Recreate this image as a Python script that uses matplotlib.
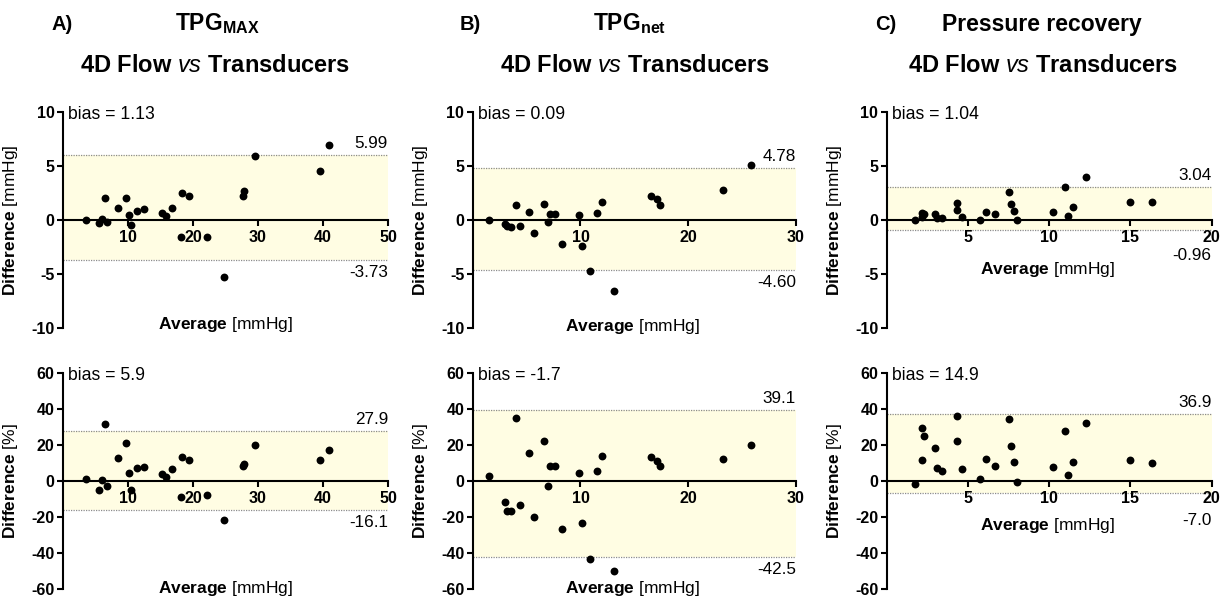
import matplotlib
matplotlib.use("Agg")
import matplotlib.pyplot as plt

plt.rcParams['font.family'] = ['Liberation Sans', 'DejaVu Sans']
plt.rcParams['mathtext.fontset'] = 'custom'
plt.rcParams['mathtext.rm'] = 'Liberation Sans'
plt.rcParams['mathtext.bf'] = 'Liberation Sans:bold'
plt.rcParams['mathtext.it'] = 'Liberation Sans:italic'
plt.rcParams['axes.unicode_minus'] = False

# ---------------- data ----------------
a_avg = [3.5, 5.5, 6.0, 6.5, 6.7, 8.5, 9.7, 10.2, 10.4, 11.4, 12.4, 15.3, 15.9, 16.8,
         18.2, 18.3, 19.4, 22.1, 24.8, 27.7, 27.8, 29.5, 39.6, 40.9]
a_diff = [0, -0.3, 0.05, 2.0, -0.2, 1.05, 2.0, 0.45, -0.5, 0.8, 1.0, 0.6, 0.4, 1.05,
          -1.55, 2.45, 2.25, -1.6, -5.3, 2.2, 2.7, 5.9, 4.5, 6.9]
a_pct = [0.9, -5.2, 0.7, 31.3, -2.6, 12.4, 20.9, 4.6, -5.2, 6.9, 7.6, 3.7, 2.2, 6.3,
         -8.7, 13.3, 11.5, -7.6, -21.5, 8.0, 9.6, 20.0, 11.3, 16.9]

b_avg = [1.5, 3.0, 3.2, 3.6, 4.0, 4.4, 5.2, 5.7, 6.6, 7.0, 7.2, 7.6, 8.3, 9.9, 10.1,
         10.9, 11.5, 12.0, 13.1, 16.5, 17.1, 17.4, 23.2, 25.8]
b_diff = [0, -0.37, -0.55, -0.68, 1.35, -0.6, 0.77, -1.17, 1.45, -0.2, 0.55, 0.55, -2.2,
          0.43, -2.4, -4.77, 0.65, 1.66, -6.6, 2.2, 1.9, 1.35, 2.74, 5.1]
b_pct = [2.6, -12.0, -16.5, -16.7, 35.0, -13.3, 15.4, -19.8, 21.9, -3.0, 8.0, 8.0, -26.9,
         4.4, -23.5, -43.3, 5.7, 13.9, -49.8, 13.3, 11.1, 8.0, 11.9, 19.8]

c_avg = [1.73, 2.2, 2.3, 2.2, 2.96, 3.1, 3.4, 4.35, 4.33, 4.65, 5.76, 6.14, 6.67, 7.53,
         7.67, 7.86, 8.0, 10.24, 10.96, 11.18, 11.49, 12.24, 15.0, 16.35]
c_diff = [-0.06, 0.65, 0.55, 0.3, 0.52, 0.18, 0.15, 1.57, 0.92, 0.3, 0.03, 0.74, 0.52, 2.55,
          1.5, 0.8, -0.03, 0.77, 3.02, 0.34, 1.23, 3.97, 1.69, 1.66]
c_pct = [-1.5, 29.1, 25.0, 11.5, 18.5, 7.0, 5.6, 36.1, 22.0, 6.7, 1.1, 12.2, 8.3, 34.3,
         19.6, 10.2, -0.4, 7.8, 27.6, 3.3, 10.6, 32.0, 11.3, 10.0]

# bias, upper limit, lower limit (as labelled)
a_mm_stats = ["1.13", "5.99", "-3.73"]
a_pc_stats = ["5.9", "27.9", "-16.1"]
b_mm_stats = ["0.09", "4.78", "-4.60"]
b_pc_stats = ["-1.7", "39.1", "-42.5"]
c_mm_stats = ["1.04", "3.04", "-0.96"]
c_pc_stats = ["14.9", "36.9", "-7.0"]

a_xticks = [10, 20, 30, 40, 50]
b_xticks = [10, 20, 30]
c_xticks = [5, 10, 15, 20]
mm_yticks = [10, 5, 0, -5, -10]
pc_yticks = [60, 40, 20, 0, -20, -40, -60]

panel_letters = ["A)", "B)", "C)"]
panel_titles = [r"$\mathbf{TPG}_{\mathbf{MAX}}$", r"$\mathbf{TPG}_{\mathbf{net}}$", "Pressure recovery"]
subtitle = r"4D Flow $\mathit{vs}$ Transducers"

# ---------------- figure ----------------
W, H = 1229, 600
fig = plt.figure(figsize=(W / 100, H / 100), dpi=100)

FILL = '#FFFDE3'
LINEC = '#8c8c8c'


def add_ax(x0, x1, ytop, ybot):
    return fig.add_axes([x0 / W, 1 - ybot / H, (x1 - x0) / W, (ybot - ytop) / H])


def panel(ax, xs, ys, stats, xmax, xticks, yticks, unit, xlab_pos, low_off):
    ylim = (yticks[-1], yticks[0])
    ax.set_xlim(0, xmax)
    ax.set_ylim(*ylim)
    ax.patch.set_alpha(0)
    bias, hi, lo = [float(s) for s in stats]
    ax.fill_between([0, xmax], lo, hi, color=FILL, zorder=0, linewidth=0)
    ax.hlines([hi, lo], 0, xmax, colors=LINEC, linestyles=(0, (1, 1)), linewidth=0.9, zorder=1)
    ax.scatter(xs, ys, s=32, color='black', zorder=4, clip_on=False, linewidths=0)

    for s in ['top', 'right']:
        ax.spines[s].set_visible(False)
    ax.spines['bottom'].set_position(('data', 0))
    ax.spines['left'].set_position(('data', 0))
    for s in ['bottom', 'left']:
        ax.spines[s].set_linewidth(1.5)
        ax.spines[s].set_zorder(3)
    ax.set_xticks(xticks, [str(t) for t in xticks], fontweight='bold', fontsize=11.5)
    ax.set_yticks(yticks, [str(t) for t in yticks], fontweight='bold', fontsize=11.5)
    ax.tick_params(axis='both', direction='out', length=4, width=1.5)
    ax.tick_params(axis='x', pad=3)
    ax.tick_params(axis='y', pad=2)

    ax.text(0.016, 1.025, "bias = " + stats[0], transform=ax.transAxes,
            ha='left', va='top', fontsize=12.7)
    ax.annotate(stats[1], xy=(xmax, hi), xytext=(0, 4), textcoords='offset pixels',
                ha='right', va='bottom', fontsize=12.3)
    ax.annotate(stats[2], xy=(xmax, lo), xytext=(0, -low_off), textcoords='offset pixels',
                ha='right', va='top', fontsize=12.3)
    ax.text(xlab_pos[0], xlab_pos[1], r"$\mathbf{Average}$ [mmHg]", ha='center', va='center',
            fontsize=12.5)
    ax.set_ylabel(r"$\mathbf{Difference}$ [" + unit + "]", fontsize=12.5)
    ax.yaxis.set_label_coords(-0.132, 0.5)


cols = [(63, 388), (472.7, 796), (886.7, 1211.7)]
top_rows = (111.7, 328)
bot_rows = (372.7, 589)

datasets = [
    (a_avg, a_diff, a_pct, a_mm_stats, a_pc_stats, 50, a_xticks, (25, -9.7), (25, -59.6), 5, 5),
    (b_avg, b_diff, b_pct, b_mm_stats, b_pc_stats, 30, b_xticks, (14.8, -9.9), (14.8, -59.7), 5, 5),
    (c_avg, c_diff, c_pct, c_mm_stats, c_pc_stats, 20, c_xticks, (9.9, -4.6), (9.9, -24.6), 18, 20),
]

for (x0, x1), d in zip(cols, datasets):
    avg, diff, pct, mm_s, pc_s, xmax, xt, lab1, lab2, off1, off2 = d
    ax1 = add_ax(x0, x1, *top_rows)
    panel(ax1, avg, diff, mm_s, xmax, xt, mm_yticks, "mmHg", lab1, off1)
    ax2 = add_ax(x0, x1, *bot_rows)
    panel(ax2, avg, pct, pc_s, xmax, xt, pc_yticks, "%", lab2, off2)

# titles
letter_x = [52, 460, 875]
title_cx = [217, 630, 1042]
sub_cx = [215, 635, 1043]
for i in range(3):
    fig.text(letter_x[i] / W, 1 - 29.5 / H, panel_letters[i], ha='left', va='baseline',
             fontsize=14.5, fontweight='bold')
    fig.text(title_cx[i] / W, 1 - 30.5 / H, panel_titles[i], ha='center', va='baseline',
             fontsize=16.5, fontweight='bold')
    fig.text(sub_cx[i] / W, 1 - 71.5 / H, subtitle, ha='center', va='baseline',
             fontsize=17, fontweight='bold')

fig.savefig("out.png", dpi=100)
